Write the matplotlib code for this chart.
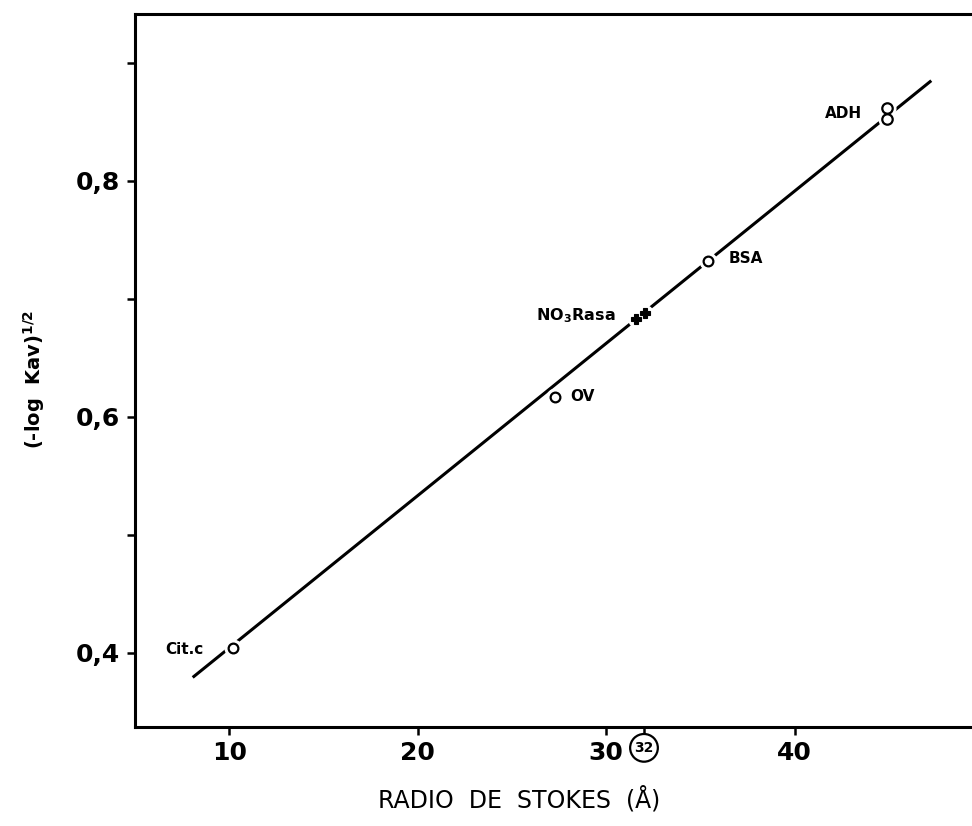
import numpy as np
import matplotlib.pyplot as plt

# values
proteins = ["Cit.c", "OV", "BSA"]
stokes_radius = [10.2, 27.3, 35.4]
neg_log_kav = [0.404, 0.617, 0.732]

# ADH is drawn as two stacked circles ("8")
adh_x = [44.9, 44.9]
adh_y = [0.8525, 0.862]

# NO3 reductase: two crosses
nitrate_x = [31.6, 32.05]
nitrate_y = [0.6825, 0.688]

# calibration line end points
fit_x = [8.06, 47.24]
fit_y = [0.379, 0.885]

x_ticks = [10, 20, 30, 32, 40]
x_ticklabels = ["10", "20", "30", "32", "40"]
y_ticks = [0.4, 0.6, 0.8]
y_ticklabels = ["0,4", "0,6", "0,8"]
y_minor = [0.5, 0.7, 0.9]

fig = plt.figure(figsize=(9.72, 8.26), dpi=100)
ax = fig.add_axes([0.1389, 0.1199, 0.8611, 0.8631])
ax.set_xlim(5, 49.4)
ax.set_ylim(0.337, 0.9415)

# line with white gaps around the markers
ax.plot(fit_x, fit_y, color="black", lw=2.2, solid_capstyle="butt", zorder=1)
gap = dict(ls="none", marker="o", mfc="white", mec="white", zorder=2)
ax.plot(stokes_radius, neg_log_kav, ms=12, **gap)
ax.plot(adh_x, adh_y, ms=12, **gap)
ax.plot(nitrate_x, nitrate_y, ms=11, **gap)

ax.plot(stokes_radius, neg_log_kav, ls="none", marker="o", ms=7,
        mfc="white", mec="black", mew=1.6, zorder=3)
ax.plot(adh_x, adh_y, ls="none", marker="o", ms=7.5,
        mfc="none", mec="black", mew=1.6, zorder=3)
ax.plot(nitrate_x, nitrate_y, ls="none", marker="P", ms=7.5,
        mfc="black", mec="black", mew=0.8, zorder=3)

# labels
lab = dict(textcoords="offset points", fontsize=11, fontweight="bold", va="center")
ax.annotate("Cit.c", (stokes_radius[0], neg_log_kav[0]), xytext=(-21, -1), ha="right", **lab)
ax.annotate("OV", (stokes_radius[1], neg_log_kav[1]), xytext=(11, 0), ha="left", **lab)
ax.annotate("BSA", (stokes_radius[2], neg_log_kav[2]), xytext=(15, 2), ha="left", **lab)
ax.annotate("ADH", (adh_x[0], adh_y[0]), xytext=(-18, 4), ha="right", **lab)
ax.annotate("NO$_\\mathbf{3}$Rasa", (nitrate_x[0], nitrate_y[0]), xytext=(-15, 3),
            ha="right", fontsize=11.5, fontweight="bold", va="center",
            textcoords="offset points")

# axes cosmetics
for side in ["left", "bottom", "top"]:
    ax.spines[side].set_linewidth(2.2)
ax.spines["right"].set_visible(False)

ax.set_xticks(x_ticks)
ax.set_xticklabels(x_ticklabels, fontsize=18, fontweight="bold")
for t in ax.get_xticklabels():
    if t.get_text() == "32":
        t.set_fontsize(10)
        t.set_bbox(dict(boxstyle="circle,pad=0.3", fc="white", ec="black", lw=1.6))
ax.set_yticks(y_ticks)
ax.set_yticklabels(y_ticklabels, fontsize=18, fontweight="bold")
ax.set_yticks(y_minor, minor=True)
ax.tick_params(axis="x", direction="out", length=6, width=1.8, pad=4)
ax.tick_params(axis="y", which="both", direction="out", length=6, width=1.8, pad=5)

ax.set_xlabel("RADIO  DE  STOKES  (Å)", fontsize=17)
ax.xaxis.set_label_coords(0.459, -0.083)
ax.set_ylabel("(-log  Kav)$^{\\mathbf{1/2}}$", fontsize=14, fontweight="bold")
ax.yaxis.set_label_coords(-0.105, 0.487)

plt.savefig("out.png", dpi=100)
